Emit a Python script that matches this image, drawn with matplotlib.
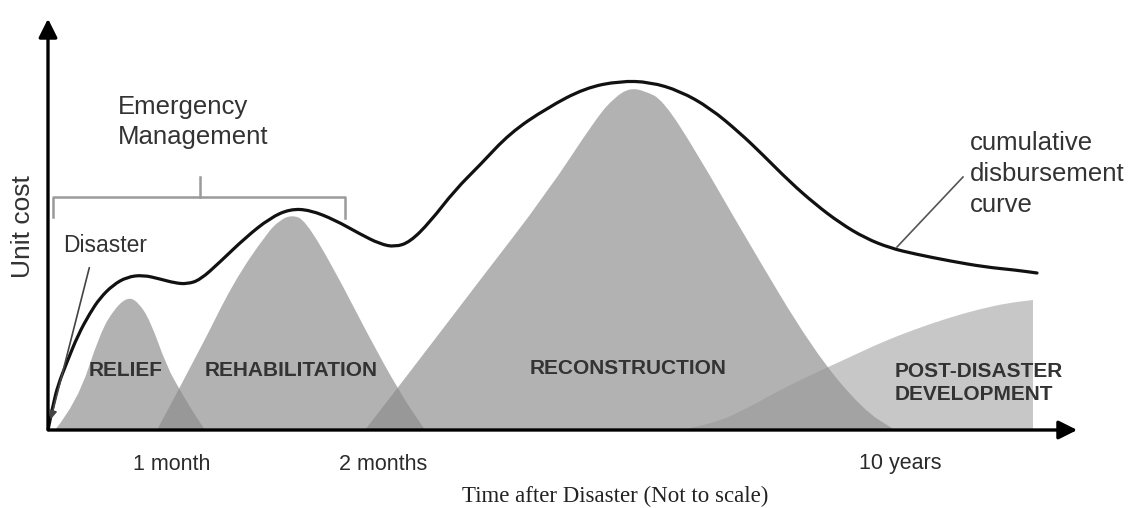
import matplotlib.pyplot as plt
import numpy as np
from matplotlib.path import Path
from matplotlib.patches import PathPatch

# phase humps (x = time position, h = unit cost)
relief_x = [7, 29, 52, 67, 80, 90, 102, 119, 132, 145, 157]
relief_h = [0, 27, 97, 122, 133, 128, 110, 63, 40, 18, 0]

rehab_x = [109, 152, 185, 219, 232, 244, 257, 285, 319, 352, 377]
rehab_h = [0, 80, 147, 197, 210, 215, 210, 163, 97, 37, 0]

recon_x = [317, 352, 432, 499, 549, 567, 582, 597, 615, 649, 699, 765, 815, 847]
recon_h = [0, 45, 150, 237, 313, 333, 342, 339, 330, 277, 190, 80, 20, 0]

post_x = [632, 665, 700, 732, 765, 800, 832, 865, 900, 932, 960, 985]
post_h = [0, 6, 22, 40, 56, 72, 87, 100, 112, 121, 127, 130]

# cumulative disbursement curve
cum_x = [0, 5, 10, 19, 30, 42, 52, 65, 79, 95, 112, 127, 139, 152, 172, 197, 222,
         242, 262, 287, 312, 332, 347, 362, 382, 407, 432, 462, 499, 537, 572,
         602, 632, 662, 692, 715, 742, 767, 792, 817, 842, 867, 902, 937, 967, 989]
cum_h = [0, 25, 45, 68, 95, 117, 132, 145, 153, 155, 151, 147, 146, 150, 168, 192,
         212, 221, 220, 210, 196, 186, 183, 188, 208, 240, 265, 297, 322, 342, 349,
         348, 339, 322, 297, 275, 248, 226, 207, 192, 182, 176, 169, 163, 160, 157]

phase_labels = ["RELIEF", "REHABILITATION", "RECONSTRUCTION", "POST-DISASTER\nDEVELOPMENT"]
tick_labels = ["1 month", "2 months", "10 years"]
tick_pos = [124, 335, 852]


def smooth(xs, ys):
    # quadratic bezier through midpoints, the read points act as control points
    pts = np.column_stack([xs, ys]).astype(float)
    verts = [pts[0]]
    codes = [Path.MOVETO]
    for i in range(1, len(pts) - 1):
        verts += [pts[i], (pts[i] + pts[i + 1]) / 2]
        codes += [Path.CURVE3, Path.CURVE3]
    verts.append(pts[-1])
    codes.append(Path.LINETO)
    return verts, codes


def hump(ax, xs, ys, color, alpha, extra=None):
    verts, codes = smooth(xs, ys)
    if extra:
        for p in extra:
            verts.append(p)
            codes.append(Path.LINETO)
    verts.append(verts[0])
    codes.append(Path.CLOSEPOLY)
    ax.add_patch(PathPatch(Path(verts, codes), facecolor=color, alpha=alpha, lw=0))


plt.rcParams['font.family'] = ['Liberation Sans', 'DejaVu Sans']

fig = plt.figure(figsize=(11.29, 5.08), dpi=100)
ax = fig.add_axes([0, 0, 1, 1])
ax.set_xlim(-48, 1081)
ax.set_ylim(-78, 430)
ax.axis('off')

# humps
hump(ax, relief_x, relief_h, '0.55', 0.667)
hump(ax, rehab_x, rehab_h, '0.55', 0.667)
hump(ax, recon_x, recon_h, '0.55', 0.667)
hump(ax, post_x, post_h, '0.59', 0.53, extra=[(post_x[-1], 0)])

# cumulative curve
v, c = smooth(cum_x, cum_h)
ax.add_patch(PathPatch(Path(v, c), fill=False, edgecolor='#111111', lw=2.3, capstyle='round'))

# axes with arrows
ax.annotate('', xy=(0, 414), xytext=(0, -2),
            arrowprops=dict(arrowstyle='-|>', lw=2.4, color='black', mutation_scale=28))
ax.annotate('', xy=(1032, 0), xytext=(-2, 0),
            arrowprops=dict(arrowstyle='-|>', lw=2.4, color='black', mutation_scale=28))

# emergency management bracket
br = '#9a9a9a'
ax.plot([5, 5, 297, 297], [213, 233, 233, 212], color=br, lw=1.8)
ax.plot([152, 152], [233, 253], color=br, lw=1.8)
ax.text(70, 308, "Emergency\nManagement", fontsize=18.5, color='#333333',
        ha='left', va='center', linespacing=1.35)

# disaster pointer
ax.text(15, 184, "Disaster", fontsize=16.5, color='#333333', ha='left', va='center')
ax.annotate('', xy=(2, 8), xytext=(42, 165),
            arrowprops=dict(arrowstyle='-|>', lw=1.2, color='#444444', mutation_scale=12))

# cumulative curve label
ax.text(922, 256, "cumulative\ndisbursement\ncurve", fontsize=18.5, color='#333333',
        ha='left', va='center', linespacing=1.35)
ax.plot([849, 915], [183, 253], color='#555555', lw=1.2)

ax.text(-25, 203, "Unit cost", fontsize=19, color='#333333', rotation=90,
        ha='center', va='center')

# phase labels
lab_kw = dict(fontsize=15, color='#333333', fontweight='bold', va='center')
ax.text(78, 60, phase_labels[0], ha='center', **lab_kw)
ax.text(243, 60, phase_labels[1], ha='center', **lab_kw)
ax.text(580, 62, phase_labels[2], ha='center', **lab_kw)
ax.text(847, 47, phase_labels[3], ha='left', linespacing=1.3, **lab_kw)

for lab, xp in zip(tick_labels, tick_pos):
    ax.text(xp, -34, lab, fontsize=15.5, color='#2b2b2b', ha='center', va='center')

ax.text(567, -66, "Time after Disaster (Not to scale)", fontsize=16.5, color='#222222',
        family=['Liberation Serif', 'DejaVu Serif'], ha='center', va='center')

fig.savefig('out.png', dpi=100)
